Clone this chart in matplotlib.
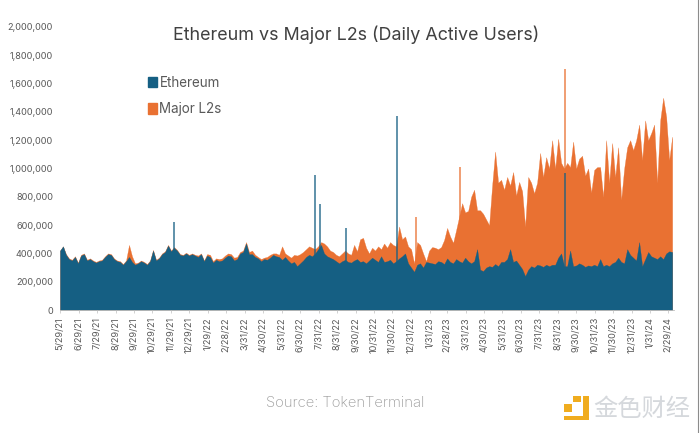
import matplotlib
matplotlib.use("Agg")
import matplotlib.pyplot as plt
from matplotlib.lines import Line2D
from matplotlib.patches import Patch, Rectangle
import pandas as pd

# values, in thousands of users
ethereum = [
    420, 450, 390, 360, 350, 375, 330, 385, 395, 350, 360, 345, 335, 345, 350, 375, 395, 390, 360, 345,
    340, 320, 345, 375, 340, 320, 330, 345, 335, 320, 345, 420, 350, 365, 395, 410, 455, 415, 440, 420,
    390, 385, 400, 385, 395, 385, 375, 395, 345, 385, 375, 335, 355, 345, 350, 370, 385, 380, 350, 360,
    400, 410, 470, 395, 395, 375, 365, 345, 360, 355, 370, 390, 380, 375, 355, 375, 350, 330, 340, 310,
    330, 350, 375, 390, 380, 400, 430, 460, 400, 380, 370, 360, 345, 330, 345, 355, 340, 335, 350, 360,
    340, 345, 330, 350, 370, 355, 340, 380, 340, 345, 355, 330, 345, 365, 380, 400, 330, 300, 270, 320,
    330, 300, 340, 335, 330, 325, 345, 340, 325, 365, 340, 330, 360, 345, 335, 370, 345, 330, 345, 430,
    285, 275, 300, 310, 305, 325, 310, 340, 340, 360, 430, 340, 350, 320, 290, 240, 285, 310, 300, 320,
    315, 305, 320, 310, 320, 320, 370, 400, 310, 310, 420, 310, 315, 330, 320, 305, 315, 310, 320, 310,
    360, 310, 320, 310, 330, 340, 370, 340, 330, 430, 390, 370, 350, 480, 310, 360, 410, 380, 370, 360,
    380, 360, 400, 415, 410,
]
major_l2s = [
    420, 450, 395, 365, 355, 380, 335, 390, 400, 355, 365, 350, 340, 350, 355, 380, 400, 395, 365, 350,
    345, 325, 350, 460, 380, 330, 335, 350, 340, 325, 350, 425, 355, 370, 400, 415, 460, 420, 445, 425,
    395, 390, 405, 390, 400, 390, 385, 400, 350, 395, 390, 345, 365, 360, 365, 385, 400, 395, 370, 375,
    410, 420, 480, 410, 420, 390, 375, 360, 370, 375, 390, 400, 400, 390, 450, 400, 385, 370, 390, 385,
    395, 410, 430, 450, 440, 430, 450, 480, 470, 450, 420, 410, 390, 380, 400, 420, 400, 390, 460, 415,
    500, 510, 440, 400, 440, 420, 450, 430, 470, 440, 480, 460, 450, 590, 500, 520, 450, 430, 330, 480,
    460, 400, 345, 420, 445, 440, 430, 445, 495, 580, 520, 475, 565, 660, 755, 690, 700, 800, 850, 705,
    705, 680, 640, 600, 880, 1120, 900, 920, 850, 940, 880, 975, 810, 905, 840, 590, 940, 900, 825, 900,
    1110, 940, 1080, 1000, 1200, 1000, 1210, 1040, 1000, 1040, 1010, 1190, 1000, 1070, 1090, 950, 1000, 830, 990, 1010,
    1010, 800, 1200, 900, 1180, 940, 1150, 780, 1000, 1150, 1200, 1130, 1200, 1310, 1060, 1340, 1200, 1250, 1310, 900,
    1340, 1500, 1365, 1060, 1225,
]
# single day spikes, too thin for the sampled series
eth_spike_dates = ["2021-12-03", "2022-07-25", "2022-08-03", "2022-09-15", "2022-12-08", "2023-09-11"]
eth_spike_values = [620, 955, 750, 580, 1370, 970]
l2_spike_dates = ["2023-01-08", "2023-03-22", "2023-09-11"]
l2_spike_values = [660, 1010, 1700]

tick_labels = [
    "5/29/21", "6/29/21", "7/29/21", "8/29/21", "9/29/21", "10/29/21", "11/29/21", "12/29/21",
    "1/29/22", "2/28/22", "3/31/22", "4/30/22", "5/31/22", "6/30/22", "7/31/22", "8/31/22",
    "9/30/22", "10/31/22", "11/30/22", "12/31/22", "1/31/23", "2/28/23", "3/31/23", "4/30/23",
    "5/31/23", "6/30/23", "7/31/23", "8/31/23", "9/30/23", "10/31/23", "11/30/23", "12/31/23",
    "1/31/24", "2/29/24",
]

dates = pd.date_range("2021-05-29", "2024-03-07", periods=len(ethereum))
eth = [v * 1000 for v in ethereum]
l2 = [v * 1000 for v in major_l2s]

BLUE = "#155F83"
ORANGE = "#E97132"
W, H = 700, 433

plt.rcParams["font.family"] = ["Inter", "DejaVu Sans"]
fig = plt.figure(figsize=(7, 4.33), dpi=100)
ax = fig.add_axes([60 / W, 1 - 310 / H, 614 / W, 283 / H])

ax.fill_between(dates, 0, l2, color=ORANGE, lw=0.2, zorder=1)
ax.vlines(pd.to_datetime(l2_spike_dates), 0, [v * 1000 for v in l2_spike_values], color=ORANGE, lw=1.2, alpha=0.8, zorder=1.1)
ax.fill_between(dates, 0, eth, color=BLUE, lw=0.2, zorder=1.2)
ax.vlines(pd.to_datetime(eth_spike_dates), 0, [v * 1000 for v in eth_spike_values], color=BLUE, lw=1.2, alpha=0.8, zorder=1.3)

ax.set_xlim(dates[0], dates[-1] + pd.Timedelta(days=3))
ax.set_ylim(0, 2000000)
ax.set_yticks(range(0, 2000001, 200000))
ax.yaxis.set_major_formatter(lambda v, pos: f"{int(v):,}")
ax.tick_params(axis="y", length=0, labelsize=6.6, labelcolor="#595959", pad=5)

tick_dates = [pd.to_datetime(t, format="%m/%d/%y") for t in tick_labels]
ax.set_xticks(tick_dates)
ax.set_xticklabels(tick_labels, rotation=90)
ax.tick_params(axis="x", length=2, width=0.5, color="#BFBFBF", labelsize=6.6, labelcolor="#595959", pad=3)

for s in ["top", "right", "left"]:
    ax.spines[s].set_visible(False)
ax.spines["bottom"].set_color("#BFBFBF")
ax.spines["bottom"].set_linewidth(0.6)

fig.text(356 / W, 1 - 35 / H, "Ethereum vs Major L2s (Daily Active Users)", ha="center", va="center",
         fontsize=12.9, color="#404040")

handles = [Patch(color=BLUE, label="Ethereum"), Patch(color=ORANGE, label="Major L2s")]
leg = fig.legend(handles=handles, loc="upper left", bbox_to_anchor=(148 / W, 1 - 76 / H), frameon=False,
                 fontsize=9.7, handlelength=0.65, handleheight=0.8, handletextpad=0.2, labelspacing=0.9,
                 labelcolor="#595959", borderpad=0, borderaxespad=0)

fig.text(345.5 / W, 1 - 403 / H, "Source: TokenTerminal", ha="center", va="center", fontsize=10.7,
         color="#9A9A9A", fontweight="light")

# watermark, bottom right
gold = "#F0AC1E"
for x, y, w, h in [(564, 404, 8, 8), (573, 396, 8, 6), (583, 396, 6, 24), (564, 416, 25, 4)]:
    fig.add_artist(Rectangle((x / W, 1 - (y + h) / H), w / W, h / H, transform=fig.transFigure,
                             color=gold, lw=0))
fig.text(642 / W, 1 - 409 / H, "金色财经", ha="center", va="center", fontsize=17.5, color="#D5D8DC",
         family=["Noto Sans CJK SC", "DejaVu Sans"])

# image border on the right edge
fig.add_artist(Line2D([698 / W, 698 / W], [0, 1], transform=fig.transFigure, color="#8C8C8C", lw=0.8))

fig.savefig("out.png", dpi=100)
